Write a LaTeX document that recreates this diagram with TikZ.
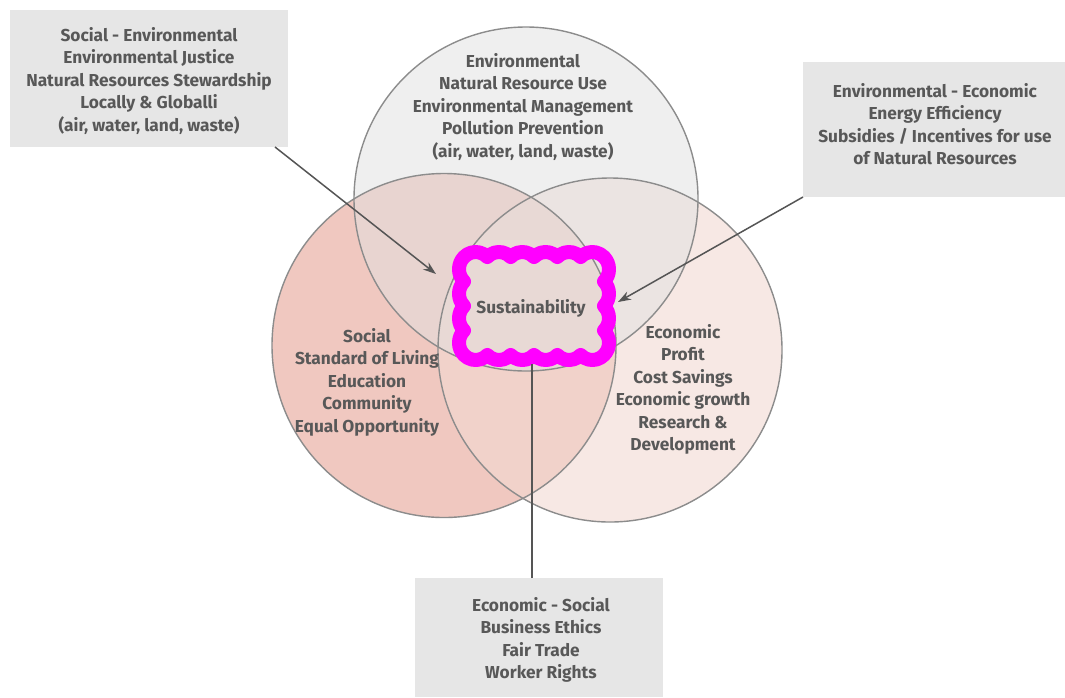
\documentclass[tikz,border=0pt]{standalone}
\usepackage{fontspec}
\setmainfont{Fira Sans}
\usetikzlibrary{arrows.meta}
\definecolor{txt}{HTML}{585858}
\definecolor{boxgray}{HTML}{E6E6E6}
\definecolor{ringgray}{HTML}{8C8C8C}
\definecolor{socfill}{RGB}{240,200,192}
\definecolor{ecofill}{RGB}{243,217,210}
\definecolor{envfill}{RGB}{225,225,225}
\definecolor{arrgray}{HTML}{555555}
\definecolor{cloudmag}{RGB}{255,0,255}
\begin{document}
\begin{tikzpicture}[x=1pt,y=-1pt,
  lbl/.style={font=\fontsize{17.3}{22.5}\selectfont\bfseries, text=txt, align=center, inner sep=0pt},
  setcircle/.style={circle, minimum size=344pt, inner sep=0pt, outer sep=0pt},
  ring/.style={draw=ringgray, line width=1.4pt},
  infobox/.style={fill=boxgray, inner sep=0pt, outer sep=0pt},
  arr/.style={draw=arrgray, line width=1.5pt, -{Stealth[length=13pt,width=9pt]}},
  plainline/.style={draw=arrgray, line width=1.5pt},
  cloudline/.style={draw=cloudmag, line width=14pt, line join=round, line cap=round}
]
\useasboundingbox (0,0) rectangle (1065,697);
\fill[white] (0,0) rectangle (1065,697);
% circles (fills)
\node[setcircle, fill=socfill] (soc) at (444,345.5) {};
\node[setcircle, fill=ecofill, fill opacity=0.6] (eco) at (610,350) {};
\node[setcircle, fill=envfill, fill opacity=0.5] (env) at (526,199) {};
% outlines
\draw[ring] (soc.center) circle[radius=172];
\draw[ring] (eco.center) circle[radius=172];
\draw[ring] (env.center) circle[radius=172];
% circle texts
\node[lbl] (envt) at (523,107) {Environmental\\Natural Resource Use\\Environmental Management\\Pollution Prevention\\(air, water, land, waste)};
\node[lbl] (soct) at (367,382) {Social\\Standard of Living\\Education\\Community\\Equal Opportunity};
\node[lbl] (ecot) at (683,389.5) {Economic\\Profit\\Cost Savings\\Economic growth\\Research \&\\Development};
% info boxes
\node[infobox, minimum width=278pt, minimum height=137pt] (lbox) at (149,78.5) {};
\node[lbl] (lboxt) at (149,81) {Social - Environmental\\Environmental Justice\\Natural Resources Stewardship\\Locally \& Globalli\\(air, water, land, waste)};
\node[infobox, minimum width=262pt, minimum height=135pt] (rbox) at (934,129.5) {};
\node[lbl] (rboxt) at (935,124) {Environmental - Economic\\Energy Efficiency\\Subsidies / Incentives for use\\of Natural Resources};
\node[infobox, minimum width=248pt, minimum height=119pt] (bbox) at (539,637.5) {};
\node[lbl] (bboxt) at (541,640) {Economic - Social\\Business Ethics\\Fair Trade\\Worker Rights};
% sustainability cloud
\coordinate (c1) at (464,257);
\draw[cloudline] (c1)
  \foreach \i in {1,...,6}{ arc[start angle=223.6, end angle=316.4, radius=16.11] }
  \foreach \i in {1,...,4}{ arc[start angle=-44.4, end angle=44.4, radius=17.51] }
  \foreach \i in {1,...,6}{ arc[start angle=43.6, end angle=136.4, radius=16.11] }
  \foreach \i in {1,...,4}{ arc[start angle=135.6, end angle=224.4, radius=17.51] }
  -- cycle;
\node[lbl] (sust) at (531,308) {Sustainability};
% connectors
\coordinate (lend) at (436,274);
\coordinate (rend) at (618,302);
\coordinate (bend) at (532,364);
\draw[arr] ([xshift=-13pt]lbox.south east) -- (lend);
\draw[arr] (rbox.south west) -- (rend);
\draw[plainline] ([xshift=-7pt]bbox.north) -- (bend);
\end{tikzpicture}
\end{document}
